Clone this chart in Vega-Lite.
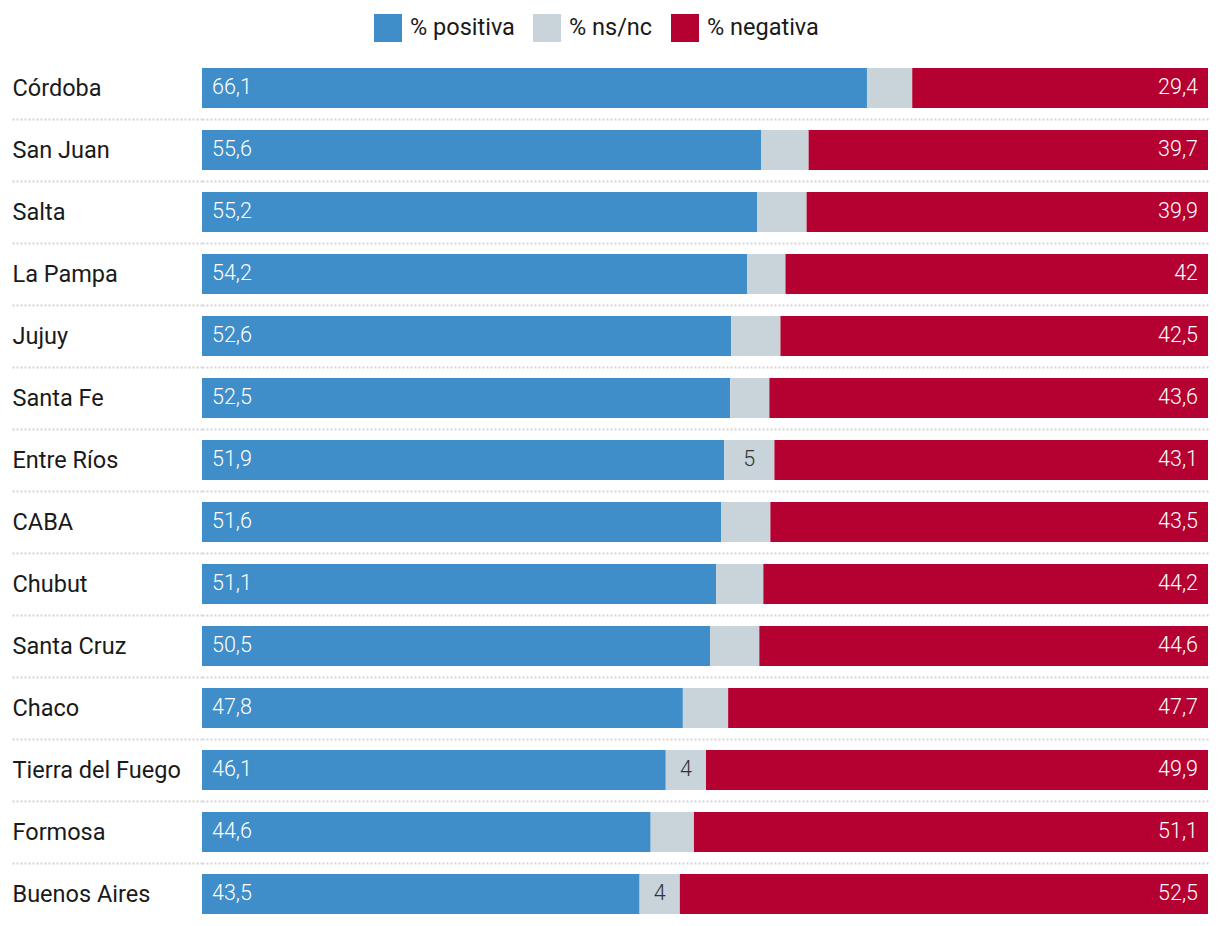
{
  "$schema": "https://vega.github.io/schema/vega-lite/v6.json",
  "width": 1006,
  "height": 868,
  "autosize": "none",
  "padding": {"left": 202, "top": 57, "right": 12, "bottom": 1},
  "config": {
    "view": {"stroke": null},
    "font": "Roboto",
    "locale": {"number": {"decimal": ",", "thousands": ".", "grouping": [3], "currency": ["$", ""]}}
  },
  "data": {
    "values": [
      {"p": "Córdoba", "c": "% positiva", "v": 66.1}, {"p": "Córdoba", "c": "% ns/nc", "v": 4.5}, {"p": "Córdoba", "c": "% negativa", "v": 29.4},
      {"p": "San Juan", "c": "% positiva", "v": 55.6}, {"p": "San Juan", "c": "% ns/nc", "v": 4.7}, {"p": "San Juan", "c": "% negativa", "v": 39.7},
      {"p": "Salta", "c": "% positiva", "v": 55.2}, {"p": "Salta", "c": "% ns/nc", "v": 4.9}, {"p": "Salta", "c": "% negativa", "v": 39.9},
      {"p": "La Pampa", "c": "% positiva", "v": 54.2}, {"p": "La Pampa", "c": "% ns/nc", "v": 3.8}, {"p": "La Pampa", "c": "% negativa", "v": 42},
      {"p": "Jujuy", "c": "% positiva", "v": 52.6}, {"p": "Jujuy", "c": "% ns/nc", "v": 4.9}, {"p": "Jujuy", "c": "% negativa", "v": 42.5},
      {"p": "Santa Fe", "c": "% positiva", "v": 52.5}, {"p": "Santa Fe", "c": "% ns/nc", "v": 3.9}, {"p": "Santa Fe", "c": "% negativa", "v": 43.6},
      {"p": "Entre Ríos", "c": "% positiva", "v": 51.9}, {"p": "Entre Ríos", "c": "% ns/nc", "v": 5}, {"p": "Entre Ríos", "c": "% negativa", "v": 43.1},
      {"p": "CABA", "c": "% positiva", "v": 51.6}, {"p": "CABA", "c": "% ns/nc", "v": 4.9}, {"p": "CABA", "c": "% negativa", "v": 43.5},
      {"p": "Chubut", "c": "% positiva", "v": 51.1}, {"p": "Chubut", "c": "% ns/nc", "v": 4.7}, {"p": "Chubut", "c": "% negativa", "v": 44.2},
      {"p": "Santa Cruz", "c": "% positiva", "v": 50.5}, {"p": "Santa Cruz", "c": "% ns/nc", "v": 4.9}, {"p": "Santa Cruz", "c": "% negativa", "v": 44.6},
      {"p": "Chaco", "c": "% positiva", "v": 47.8}, {"p": "Chaco", "c": "% ns/nc", "v": 4.5}, {"p": "Chaco", "c": "% negativa", "v": 47.7},
      {"p": "Tierra del Fuego", "c": "% positiva", "v": 46.1}, {"p": "Tierra del Fuego", "c": "% ns/nc", "v": 4}, {"p": "Tierra del Fuego", "c": "% negativa", "v": 49.9},
      {"p": "Formosa", "c": "% positiva", "v": 44.6}, {"p": "Formosa", "c": "% ns/nc", "v": 4.3}, {"p": "Formosa", "c": "% negativa", "v": 51.1},
      {"p": "Buenos Aires", "c": "% positiva", "v": 43.5}, {"p": "Buenos Aires", "c": "% ns/nc", "v": 4}, {"p": "Buenos Aires", "c": "% negativa", "v": 52.5}
    ]
  },
  "encoding": {
    "y": {
      "field": "p",
      "type": "nominal",
      "sort": null,
      "scale": {"paddingInner": 0, "paddingOuter": 0},
      "axis": {
        "title": null,
        "domain": false,
        "bandPosition": 0,
        "labelOffset": 1,
        "labelAlign": "left",
        "labelBaseline": "middle",
        "labelPadding": 0,
        "labelFontSize": 23.5,
        "labelColor": "#1a1a1a",
        "labelFont": "Roboto",
        "ticks": true,
        "tickSize": 190,
        "tickDash": [2, 2],
        "tickColor": "#d4d4d4",
        "tickWidth": 2,
        "tickOpacity": {"condition": {"test": "datum.value === 'Córdoba'", "value": 0}, "value": 1},
        "grid": true,
        "gridDash": [2, 2],
        "gridColor": "#d4d4d4",
        "gridWidth": 2,
        "gridOpacity": {"condition": {"test": "datum.value === 'Córdoba'", "value": 0}, "value": 1}
      }
    },
    "x": {
      "field": "v",
      "type": "quantitative",
      "stack": "zero",
      "scale": {"domain": [0, 100], "nice": false},
      "axis": null
    },
    "order": {"field": "c", "sort": "descending"}
  },
  "layer": [
    {
      "mark": {"type": "bar", "size": 40},
      "encoding": {
        "color": {
          "field": "c",
          "type": "nominal",
          "scale": {"domain": ["% positiva", "% ns/nc", "% negativa"], "range": ["#3f8ec9", "#c8d3da", "#b50032"]},
          "legend": {
            "title": null,
            "orient": "none",
            "legendX": 172,
            "legendY": -43,
            "direction": "horizontal",
            "symbolType": "square",
            "symbolSize": 784,
            "symbolStrokeWidth": 0,
            "symbolOpacity": 1,
            "labelFontSize": 23.5,
            "labelColor": "#1a1a1a",
            "labelOffset": 8,
            "columnPadding": 18
          }
        }
      }
    },
    {
      "mark": {"type": "text", "align": "left", "dx": 10, "baseline": "middle", "fontSize": 21.5, "fontWeight": 300, "color": "white"},
      "encoding": {
        "x": {"field": "v", "type": "quantitative", "stack": "zero", "bandPosition": 0},
        "text": {"field": "v", "type": "quantitative", "format": ".4~r"},
        "opacity": {"condition": {"test": "datum.c === '% positiva'", "value": 1}, "value": 0}
      }
    },
    {
      "mark": {"type": "text", "align": "right", "dx": -10, "baseline": "middle", "fontSize": 21.5, "fontWeight": 300, "color": "white"},
      "encoding": {
        "x": {"field": "v", "type": "quantitative", "stack": "zero", "bandPosition": 1},
        "text": {"field": "v", "type": "quantitative", "format": ".4~r"},
        "opacity": {"condition": {"test": "datum.c === '% negativa'", "value": 1}, "value": 0}
      }
    },
    {
      "mark": {"type": "text", "align": "center", "baseline": "middle", "fontSize": 21.5, "fontWeight": 300, "color": "#333333"},
      "encoding": {
        "x": {"field": "v", "type": "quantitative", "stack": "zero", "bandPosition": 0.5},
        "text": {"field": "v", "type": "quantitative", "format": ".4~r"},
        "opacity": {"condition": {"test": "datum.c === '% ns/nc' && datum.v % 1 === 0", "value": 1}, "value": 0}
      }
    }
  ]
}
